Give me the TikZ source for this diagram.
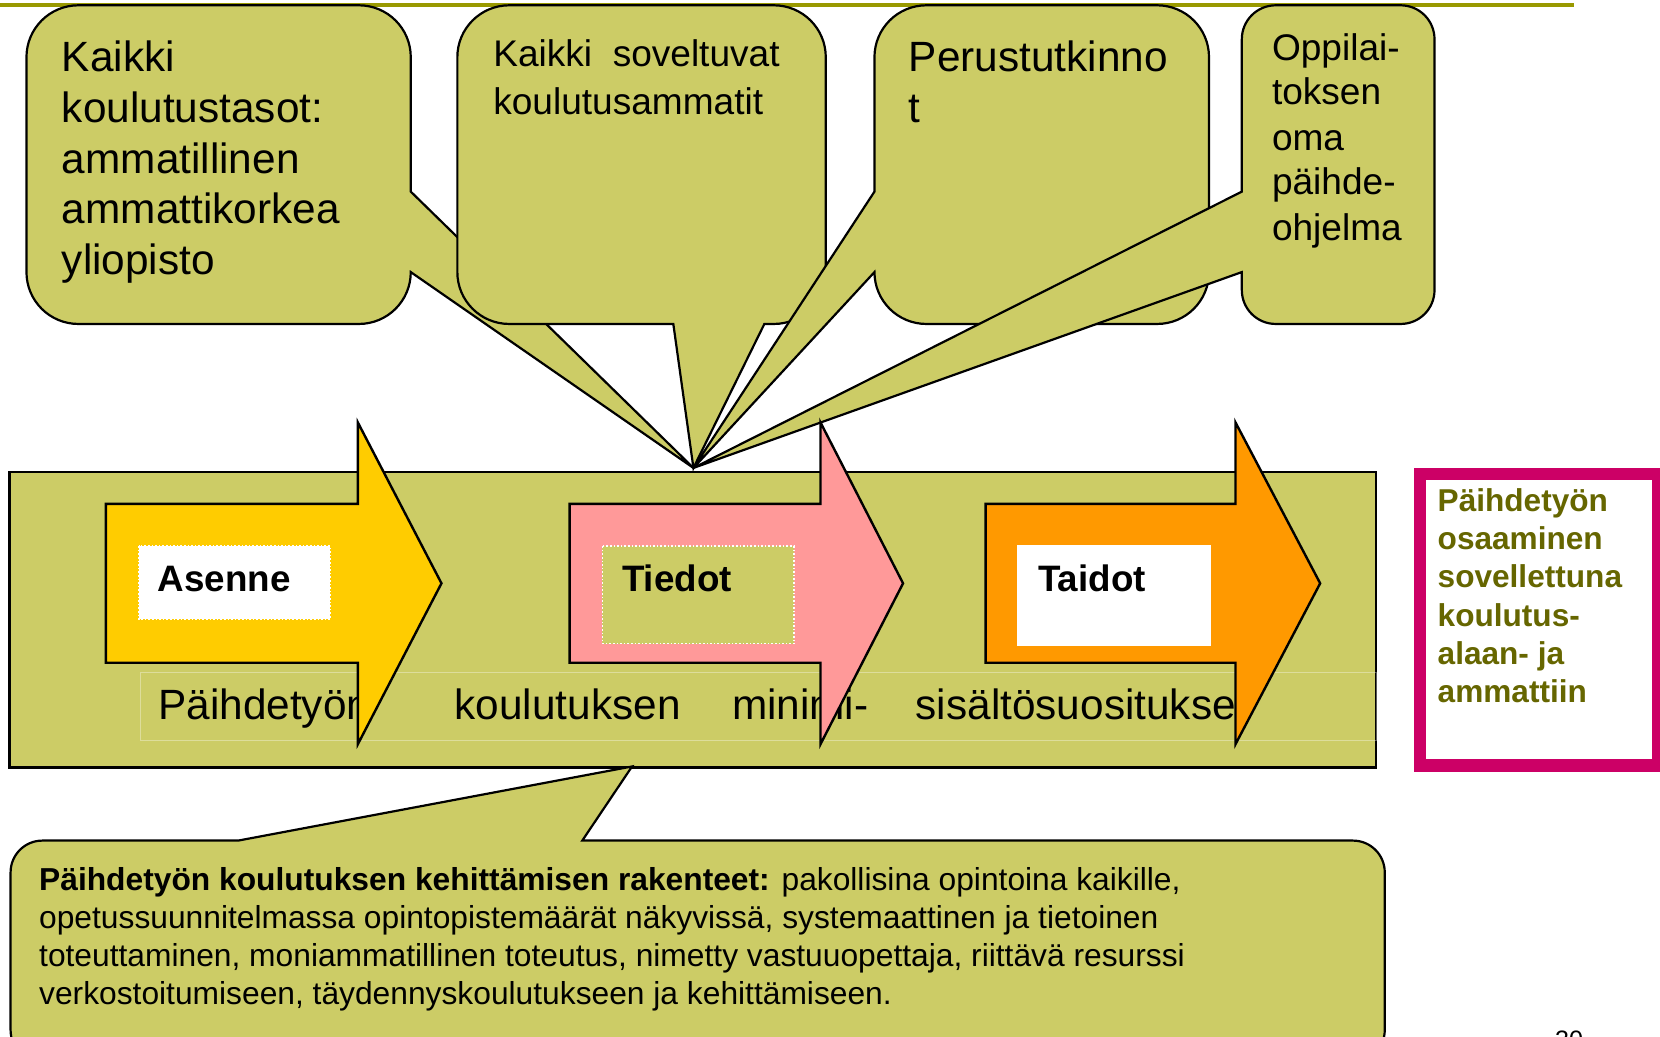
\documentclass[tikz,border=0pt]{standalone}
\usepackage{fontspec}
\setmainfont{Liberation Sans}
\definecolor{olivefill}{HTML}{CCCC66}
\definecolor{topline}{HTML}{999900}
\definecolor{yellowA}{HTML}{FFCC00}
\definecolor{pinkA}{HTML}{FF9999}
\definecolor{orangeA}{HTML}{FF9900}
\definecolor{magentaA}{HTML}{CC0066}
\definecolor{olivetext}{HTML}{666600}
\newcommand\myfs[1]{\fontsize{#1pt}{#1pt}\selectfont}
\begin{document}
\begin{tikzpicture}[x=0.52934pt,y=-0.52934pt,
  outl/.style={draw=black, line width=1.1pt, line join=miter},
  callout/.style={outl, fill=olivefill},
  txt/.style={anchor=base west, inner sep=0pt, outer sep=0pt},
  bigtxt/.style={txt, font=\myfs{21.17}},
  midtxt/.style={txt, font=\myfs{18.53}},
  lbl/.style={txt, font=\myfs{18.4}\bfseries},
  magtxt/.style={txt, font=\myfs{15.8}\bfseries, text=olivetext},
  bottxt/.style={txt, font=\myfs{15.88}},
  arrowshape/.style={outl, line width=1.2pt}]
\useasboundingbox (0,0) rectangle (1568,979);
\fill[white] (0,0) rectangle (1568,979);

% top rule
\draw[topline, line width=2pt] (0,4.5) -- (1487,4.5);

% callout 1
\draw[callout] (74,5) -- (339,5) arc[start angle=270,end angle=360,radius=49]
  -- (388,181) -- (655,442) -- (388,257) arc[start angle=0,end angle=90,radius=49]
  -- (74,306) arc[start angle=90,end angle=180,radius=49]
  -- (25,54) arc[start angle=180,end angle=270,radius=49] -- cycle;
% callout 2
\draw[callout] (481,5) -- (731,5) arc[start angle=270,end angle=360,radius=49]
  -- (780,257) arc[start angle=0,end angle=90,radius=49]
  -- (722,306) -- (655,442) -- (636,306)
  -- (481,306) arc[start angle=90,end angle=180,radius=49]
  -- (432,54) arc[start angle=180,end angle=270,radius=49] -- cycle;
% callout 3
\draw[callout] (875,5) -- (1093,5) arc[start angle=270,end angle=360,radius=49]
  -- (1142,257) arc[start angle=0,end angle=90,radius=49]
  -- (875,306) arc[start angle=90,end angle=180,radius=49]
  -- (655,442) -- (826,181)
  -- (826,54) arc[start angle=180,end angle=270,radius=49] -- cycle;
% callout 4
\draw[callout] (1205,5) -- (1323,5) arc[start angle=270,end angle=360,radius=32]
  -- (1355,274) arc[start angle=0,end angle=90,radius=32]
  -- (1205,306) arc[start angle=90,end angle=180,radius=32]
  -- (1173,257) -- (655,442) -- (1173,181)
  -- (1173,37) arc[start angle=180,end angle=270,radius=32] -- cycle;

% callout texts
\node[bigtxt] (c1a) at (58.5,67.7) {Kaikki};
\node[bigtxt] (c1b) at (58.5,116) {koulutustasot:};
\node[bigtxt] (c1c) at (58.5,163.5) {ammatillinen};
\node[bigtxt] (c1d) at (58.5,211.5) {ammattikorkea};
\node[bigtxt] (c1e) at (58.5,259.5) {yliopisto};

\node[midtxt] (c2a) at (466,63) {Kaikki\ \ soveltuvat};
\node[midtxt] (c2b) at (466,108.6) {koulutusammatit};

\node[bigtxt] (c3a) at (858.6,67.7) {Perustutkinno};
\node[bigtxt] (c3b) at (858.6,115.5) {t};

\node[midtxt] (c4a) at (1201.5,56.7) {Oppilai-};
\node[midtxt] (c4b) at (1201.5,99) {toksen};
\node[midtxt] (c4c) at (1201.5,141.7) {oma};
\node[midtxt] (c4d) at (1201.5,184) {päihde-};
\node[midtxt] (c4e) at (1201.5,226.7) {ohjelma};

% main band
\draw[outl, fill=olivefill, line width=1.2pt] (9,446) rectangle (1300,725);
\draw[white, opacity=0.35, line width=0.5pt] (133,635) rectangle (1300,699);
\node[bigtxt] (w1) at (149.6,680) {Päihdetyön};
\node[bigtxt] (w2) at (429.5,680) {koulutuksen};
\node[bigtxt] (w3) at (691.5,680) {minimi-};
\node[bigtxt] (w4) at (865,680) {sisältösuositukset};

% arrows
\draw[arrowshape, fill=yellowA] (100,476) -- (338,476) -- (338,399) -- (417,551)
  -- (338,703) -- (338,626) -- (100,626) -- cycle;
\draw[white, densely dotted, fill=white, line width=0.8pt] (131,516) rectangle (312,585);
\node[lbl] (asenne) at (149,559) {Asenne};

\draw[arrowshape, fill=pinkA] (538,476) -- (775,476) -- (775,399) -- (853,551)
  -- (775,703) -- (775,626) -- (538,626) -- cycle;
\draw[white, densely dotted, fill=olivefill, line width=0.8pt] (569,516) rectangle (750,608);
\node[lbl] (tiedot) at (587.6,559) {Tiedot};

\draw[arrowshape, fill=orangeA] (931,476) -- (1167,476) -- (1167,399) -- (1247,551)
  -- (1167,703) -- (1167,626) -- (931,626) -- cycle;
\fill[white] (961,515) rectangle (1144,610);
\node[lbl] (taidot) at (980.6,559) {Taidot};

% magenta box
\draw[magentaA, line width=6.1pt, fill=white] (1341,448) rectangle (1566,723);
\node[magtxt] (m1) at (1358,483) {Päihdetyön};
\node[magtxt] (m2) at (1358,519.2) {osaaminen};
\node[magtxt] (m3) at (1358,555.4) {sovellettuna};
\node[magtxt] (m4) at (1358,591.6) {koulutus-};
\node[magtxt] (m5) at (1358,627.8) {alaan- ja};
\node[magtxt] (m6) at (1358,664) {ammattiin};

% bottom callout
\draw[callout] (40,794) -- (225,794) -- (597,724) -- (550,794)
  -- (1278,794) arc[start angle=270,end angle=360,radius=30]
  -- (1308,973) arc[start angle=0,end angle=90,radius=30]
  -- (40,1003) arc[start angle=90,end angle=180,radius=30]
  -- (10,824) arc[start angle=180,end angle=270,radius=30] -- cycle;
\node[bottxt] (b1) at (37,841) {\textbf{Päihdetyön koulutuksen kehittämisen rakenteet:} pakollisina opintoina kaikille,};
\node[bottxt] (b2) at (37,877) {opetussuunnitelmassa opintopistemäärät näkyvissä, systemaattinen ja tietoinen};
\node[bottxt] (b3) at (37,913) {toteuttaminen, moniammatillinen toteutus, nimetty vastuuopettaja, riittävä resurssi};
\node[bottxt] (b4) at (37,949) {verkostoitumiseen, täydennyskoulutukseen ja kehittämiseen.};

% page number (mostly cut off)
\node[txt, font=\myfs{12.6}] (pg) at (1469,990) {30};
\end{tikzpicture}
\end{document}
